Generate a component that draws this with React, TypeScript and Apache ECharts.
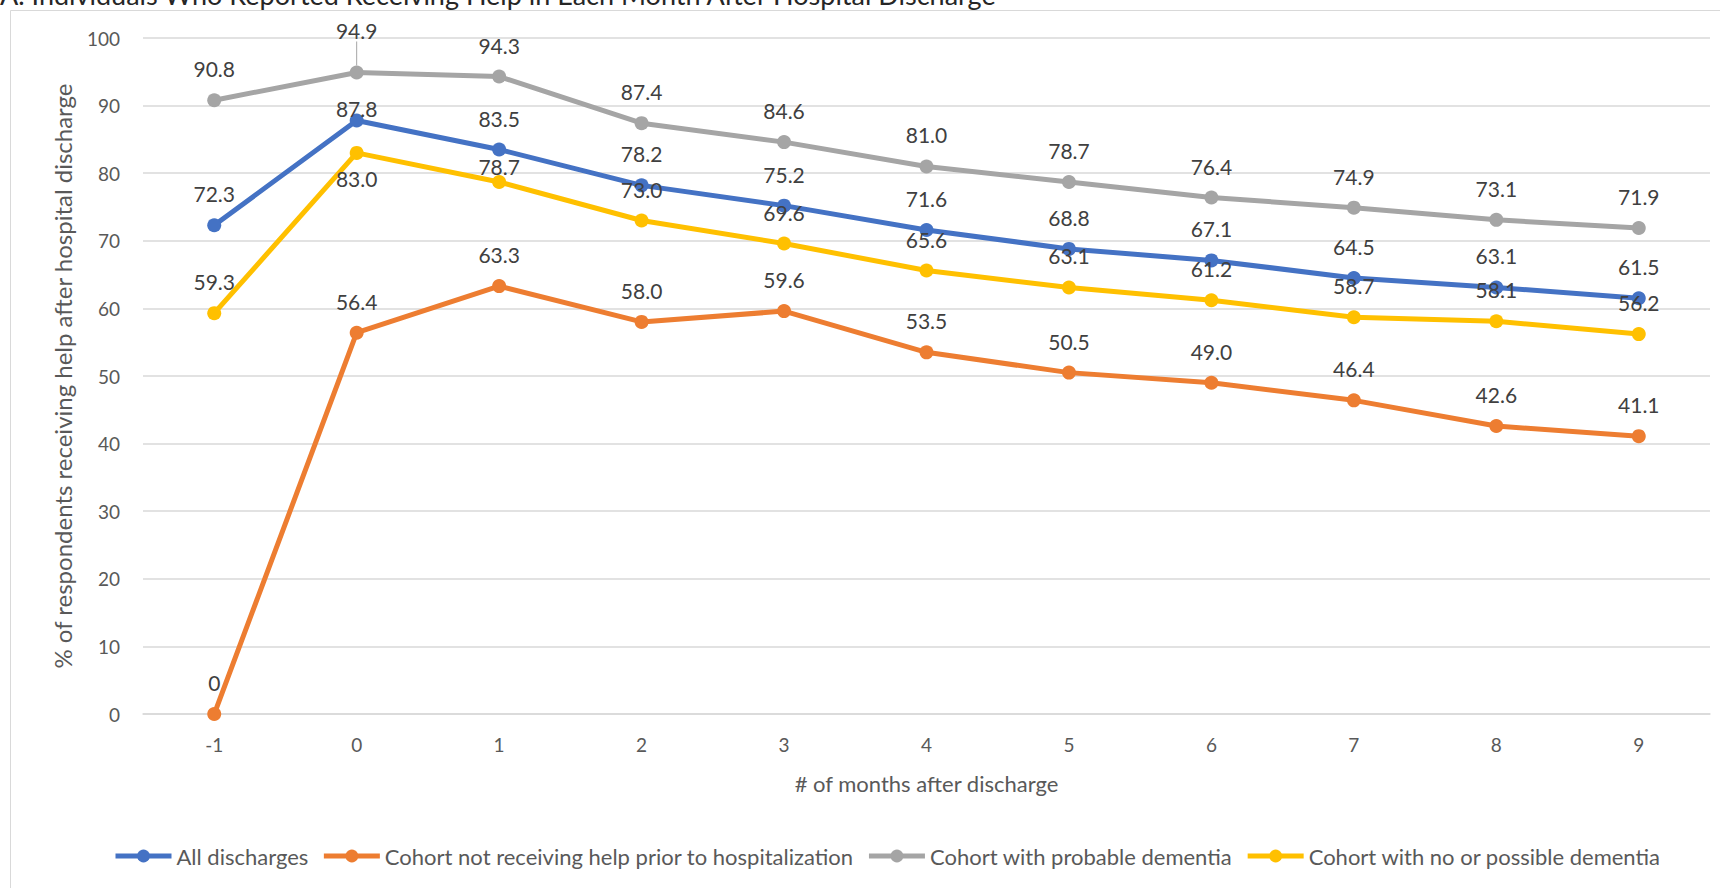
import React, { useEffect, useRef } from "react";
import * as echarts from "echarts";

const months = ["-1", "0", "1", "2", "3", "4", "5", "6", "7", "8", "9"];
const allDischarges = [72.3, 87.8, 83.5, 78.2, 75.2, 71.6, 68.8, 67.1, 64.5, 63.1, 61.5];
const notReceivingHelp = [0, 56.4, 63.3, 58.0, 59.6, 53.5, 50.5, 49.0, 46.4, 42.6, 41.1];
const probableDementia = [90.8, 94.9, 94.3, 87.4, 84.6, 81.0, 78.7, 76.4, 74.9, 73.1, 71.9];
const noPossibleDementia = [59.3, 83.0, 78.7, 73.0, 69.6, 65.6, 63.1, 61.2, 58.7, 58.1, 56.2];
const seriesNames = [
  "All discharges",
  "Cohort not receiving help prior to hospitalization",
  "Cohort with probable dementia",
  "Cohort with no or possible dementia",
];
const yTicks = [0, 10, 20, 30, 40, 50, 60, 70, 80, 90, 100];
const titleText = "A. Individuals Who Reported Receiving Help in Each Month After Hospital Discharge";

const FONT = "Lato, 'Open Sans', sans-serif";
const colors = ["#4472C4", "#ED7D31", "#A5A5A5", "#FFC000"];

const fmt = (v: number) => (v === 0 ? "0" : v.toFixed(1));

export default function App() {
  const ref = useRef<HTMLDivElement>(null);
  useEffect(() => {
    if (!ref.current) return;
    const chart = echarts.init(ref.current, undefined, { renderer: "svg" });
    const baseLabel = {
      show: true,
      position: "top",
      distance: 14,
      fontFamily: FONT,
      fontSize: 21,
      color: "#404040",
      formatter: (p: any) => fmt(p.value),
    };
    const mk = (name: string, values: number[], color: string, overrides: Record<number, any> = {}) => ({
      name,
      type: "line",
      data: values.map((v, i) => (overrides[i] ? { value: v, ...overrides[i] } : v)),
      symbol: "circle",
      symbolSize: 14,
      showSymbol: true,
      lineStyle: { color, width: 5 },
      itemStyle: { color },
      label: baseLabel,
      z: 2,
    });
    const graySeries: any = mk(seriesNames[2], probableDementia, colors[2], {
      1: { labelLine: { show: true, lineStyle: { color: "#A5A5A5", width: 1 } } },
    });
    graySeries.labelLayout = (p: any) => (p.dataIndex === 1 ? { dy: -10 } : {});

    chart.setOption({
      animation: false,
      backgroundColor: "#ffffff",
      color: colors,
      grid: { left: 143, right: 10, top: 38, bottom: 174, containLabel: false },
      legend: {
        data: seriesNames,
        left: 108,
        top: 840,
        itemWidth: 56,
        itemHeight: 16,
        itemGap: 13,
        lineStyle: { width: 5 },
        textStyle: { fontFamily: FONT, fontSize: 22, color: "#595959" },
      },
      xAxis: {
        type: "category",
        data: months,
        boundaryGap: true,
        name: "# of months after discharge",
        nameLocation: "middle",
        nameGap: 58,
        nameTextStyle: { fontFamily: FONT, fontSize: 22, color: "#595959" },
        axisLine: { show: true, lineStyle: { color: "#D9D9D9", width: 1.5 } },
        axisTick: { show: false },
        axisLabel: { margin: 21, fontFamily: FONT, fontSize: 19, color: "#595959" },
      },
      yAxis: {
        type: "value",
        min: yTicks[0],
        max: yTicks[yTicks.length - 1],
        interval: 10,
        name: "% of respondents receiving help after hospital discharge",
        nameLocation: "middle",
        nameGap: 69,
        nameTextStyle: { fontFamily: FONT, fontSize: 24, color: "#595959" },
        axisLine: { show: false },
        axisTick: { show: false },
        splitLine: { lineStyle: { color: "#D9D9D9", width: 1.5 } },
        axisLabel: { margin: 23, fontFamily: FONT, fontSize: 19, color: "#595959" },
      },
      graphic: [
        {
          type: "rect",
          shape: { x: 10.5, y: 10.5, width: 1740, height: 900 },
          style: { fill: "none", stroke: "#D9D9D9", lineWidth: 1 },
          silent: true,
          z: -10,
        },
        {
          type: "text",
          x: 0,
          y: -19,
          style: {
            text: titleText,
            fontFamily: FONT,
            fontSize: 27,
            fill: "#262626",
            verticalAlign: "top",
          },
          z: 10,
        },
      ],
      series: [
        mk(seriesNames[0], allDischarges, colors[0], { 1: { label: { distance: -6 } } }),
        mk(seriesNames[1], notReceivingHelp, colors[1]),
        graySeries,
        mk(seriesNames[3], noPossibleDementia, colors[3], {
          1: { label: { position: "bottom", distance: 8 } },
          2: { label: { distance: -2 } },
        }),
      ],
    });
    return () => chart.dispose();
  }, []);
  return (
    <div
      ref={ref}
      style={{ position: "fixed", left: 0, top: 0, width: 1720, height: 888, background: "#fff" }}
    />
  );
}
